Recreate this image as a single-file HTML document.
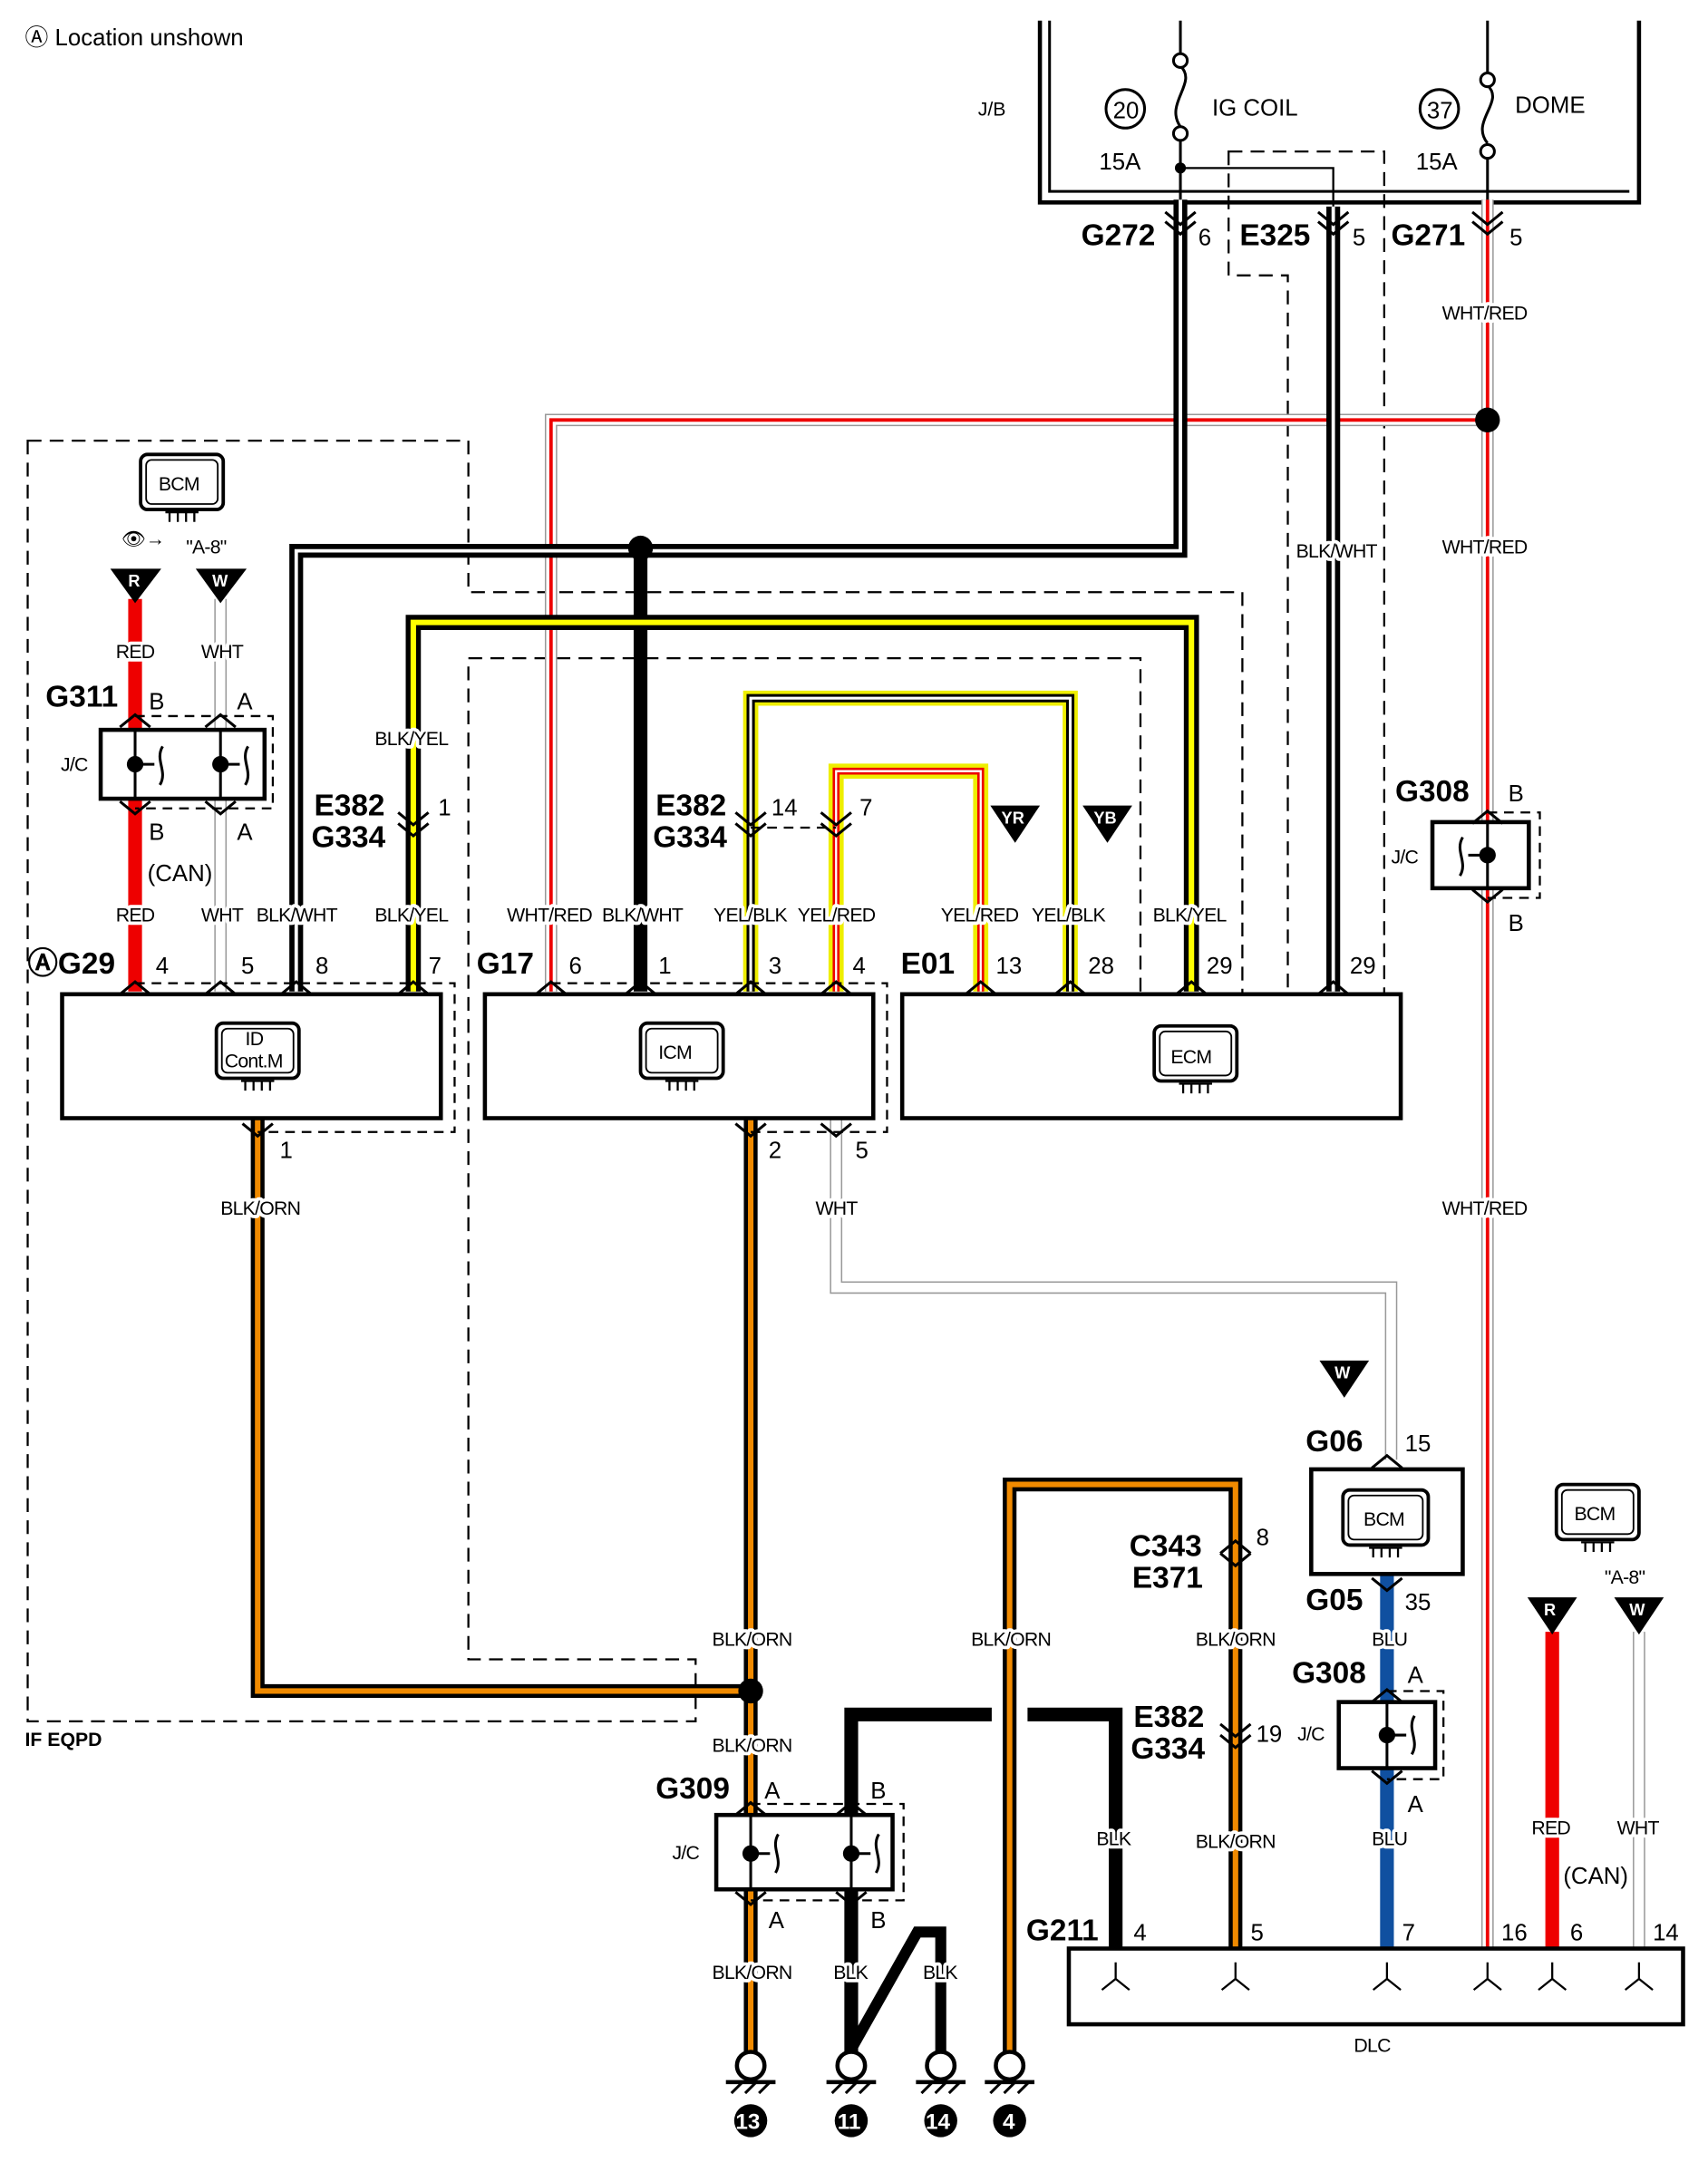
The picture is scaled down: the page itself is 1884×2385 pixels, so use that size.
<!DOCTYPE html>
<html><head><meta charset="utf-8"><style>
html,body{margin:0;padding:0;background:#fff;width:1884px;height:2385px;overflow:hidden}
svg{display:block}
text{font-family:"Liberation Sans",sans-serif;fill:#000}
.l{font-size:14px;letter-spacing:-0.5px}
.l text{stroke:#fff;stroke-width:5px;paint-order:stroke;stroke-linejoin:round}
.b{font-size:22px;font-weight:bold}
.n{font-size:17px}
</style></head><body>
<svg width="1884" height="2385" viewBox="0 0 1240 1570" xmlns="http://www.w3.org/2000/svg">
<defs>
<g id="gnd"><circle cx="0" cy="0" r="10" fill="#fff" stroke="#000" stroke-width="3"/><line x1="-18" y1="12" x2="18" y2="12" stroke="#000" stroke-width="3"/><line x1="-14" y1="20" x2="-6" y2="12" stroke="#000" stroke-width="2"/><line x1="-4" y1="20" x2="4" y2="12" stroke="#000" stroke-width="2"/><line x1="6" y1="20" x2="14" y2="12" stroke="#000" stroke-width="2"/></g>
<path id="chu" d="M-11,6 L0,-3 L11,6" fill="none" stroke="#000" stroke-width="2"/>
<path id="chd" d="M-11,-6 L0,3 L11,-6" fill="none" stroke="#000" stroke-width="2"/>
<g id="pins" stroke="#000" stroke-width="1.5"><line x1="-12" y1="0" x2="12" y2="0"/><line x1="-9" y1="0" x2="-9" y2="7"/><line x1="-3" y1="0" x2="-3" y2="7"/><line x1="3" y1="0" x2="3" y2="7"/><line x1="9" y1="0" x2="9" y2="7"/></g>
</defs>
<g fill="none">
<path d="M20,320 H340 V430 H902 V730 H828 V478 H340 V1205 H505 V1250 H20 Z" stroke="#000" stroke-width="1.5" stroke-dasharray="10,6"/>
<path d="M892,110 H1005 V730 H935 V200 H892 Z" stroke="#000" stroke-width="1.5" stroke-dasharray="10,6"/>
<path d="M755,15 V147 H1190 V15" stroke="#000" stroke-width="3"/>
<path d="M762,15 V139 H1183" stroke="#000" stroke-width="2"/>
<path d="M857,122 H968 V150" stroke="#000" stroke-width="1.5"/>

<g stroke="#999" stroke-width="9"><path d="M1080,145 V1415"/><path d="M1080,305 H400 V720"/><path d="M607,812 V935 H1010 V1060"/><path d="M160,435 V720"/><path d="M1190,1185 V1415"/></g>
<g stroke="#fff" stroke-width="7"><path d="M1080,145 V1415"/><path d="M1080,305 H400 V720"/><path d="M607,812 V935 H1010 V1060"/><path d="M160,435 V720"/><path d="M1190,1185 V1415"/></g>
<g stroke="#e00" stroke-width="2.5"><path d="M1080,145 V1415"/><path d="M1080,305 H400 V720"/></g>

<g stroke="#000" stroke-width="10"><path d="M857,145 V400 H215 V720"/><path d="M465,398 V720"/><path d="M968,150 V720"/></g>
<g stroke="#fff" stroke-width="2.5"><path d="M857,145 V400 H215 V720"/><path d="M968,150 V720"/></g>

<path d="M300,720 V452 H865 V720" stroke="#000" stroke-width="11"/>
<path d="M300,720 V452 H865 V720" stroke="#ff0" stroke-width="4"/>
<path d="M545,720 V507 H777 V720" stroke="#ee0" stroke-width="11"/>
<path d="M545,720 V507 H777 V720" stroke="#000" stroke-width="6"/>
<path d="M545,720 V507 H777 V720" stroke="#fff" stroke-width="2"/>
<path d="M607,720 V560 H712 V720" stroke="#ee0" stroke-width="11"/>
<path d="M607,720 V560 H712 V720" stroke="#e00" stroke-width="5"/>
<path d="M607,720 V560 H712 V720" stroke="#fff" stroke-width="1.5"/>

<path d="M98,435 V720" stroke="#e00" stroke-width="10"/>
<path d="M1127,1185 V1415" stroke="#e00" stroke-width="10"/>
<path d="M1007,1143 V1415" stroke="#1050a0" stroke-width="10"/>

<g stroke="#000" stroke-width="10"><path d="M187,812 V1228 H545"/><path d="M545,812 V1500"/><path d="M733,1500 V1078 H897 V1415"/></g>
<g stroke="#f08a00" stroke-width="4"><path d="M187,812 V1228 H545"/><path d="M545,812 V1500"/><path d="M733,1500 V1078 H897 V1415"/></g>
<path d="M618,1490 V1245 H720 M746,1245 H810 V1415" stroke="#000" stroke-width="10"/>
<path d="M683,1490 V1403 H666 L618,1488" stroke="#000" stroke-width="8"/>

<!-- connector dashed pin bars -->
<g stroke="#000" stroke-width="1.5" stroke-dasharray="7,5">
<path d="M98,714 H330 V822 H187"/><path d="M400,714 H644 V822 H545"/>
<path d="M98,520 H198 V587 H98"/><path d="M545,1310 H656 V1380 H545"/>
<path d="M1080,590 H1118 V652 H1080"/><path d="M1007,1228 H1048 V1292 H1007"/>
<path d="M545,601 H607"/>
</g>

<rect x="45" y="722" width="275" height="90" fill="#fff" stroke="#000" stroke-width="3"/>
<rect x="352" y="722" width="282" height="90" fill="#fff" stroke="#000" stroke-width="3"/>
<rect x="655" y="722" width="362" height="90" fill="#fff" stroke="#000" stroke-width="3"/>
<rect x="952" y="1067" width="110" height="76" fill="#fff" stroke="#000" stroke-width="3"/>
<rect x="776" y="1415" width="446" height="55" fill="#fff" stroke="#000" stroke-width="3"/>
<rect x="73" y="530" width="119" height="50" fill="#fff" stroke="#000" stroke-width="3"/>
<rect x="520" y="1318" width="128" height="54" fill="#fff" stroke="#000" stroke-width="3"/>
<rect x="1040" y="597" width="70" height="48" fill="#fff" stroke="#000" stroke-width="3"/>
<rect x="972" y="1236" width="70" height="48" fill="#fff" stroke="#000" stroke-width="3"/>
<g stroke="#000" stroke-width="2"><path d="M98,530 V580 M160,530 V580 M545,1318 V1372 M618,1318 V1372 M1080,597 V645 M1007,1236 V1284"/>
<path d="M98,555 H112 M118,542 C112,552 122,560 116,570 M160,555 H174 M180,542 C174,552 184,560 178,570 M545,1346 H559 M565,1332 C559,1342 569,1350 563,1360 M618,1346 H632 M638,1332 C632,1342 642,1350 636,1360 M1080,621 H1066 M1062,608 C1056,618 1066,626 1060,636 M1007,1260 H1021 M1027,1246 C1021,1256 1031,1264 1025,1274"/></g>
<g fill="#000"><circle cx="98" cy="555" r="6"/><circle cx="160" cy="555" r="6"/><circle cx="545" cy="1346" r="6"/><circle cx="618" cy="1346" r="6"/><circle cx="1080" cy="621" r="6"/><circle cx="1007" cy="1260" r="6"/>
<circle cx="1080" cy="305" r="9"/><circle cx="465" cy="398" r="9"/><circle cx="545" cy="1228" r="9"/><circle cx="857" cy="122" r="4"/></g>
<path d="M857,15 V40 M857,100 V145 M857,48 C870,60 845,75 857,92" stroke="#000" stroke-width="2"/>
<circle cx="857" cy="44" r="5" fill="#fff" stroke="#000" stroke-width="2"/><circle cx="857" cy="97" r="5" fill="#fff" stroke="#000" stroke-width="2"/>
<path d="M1080,15 V55 M1080,112 V145 M1080,62 C1093,74 1067,88 1080,104" stroke="#000" stroke-width="2"/>
<circle cx="1080" cy="58" r="5" fill="#fff" stroke="#000" stroke-width="2"/><circle cx="1080" cy="110" r="5" fill="#fff" stroke="#000" stroke-width="2"/>
<circle cx="817" cy="79" r="14" stroke="#000" stroke-width="2"/><circle cx="1045" cy="79" r="14" stroke="#000" stroke-width="2"/>
<g stroke="#000" stroke-width="2.5" fill="#fff"><rect x="102" y="330" width="60" height="40" rx="5"/><rect x="465" y="743" width="60" height="40" rx="5"/><rect x="838" y="745" width="60" height="40" rx="5"/><rect x="975" y="1082" width="62" height="40" rx="5"/><rect x="1130" y="1078" width="60" height="40" rx="5"/><rect x="157" y="743" width="60" height="40" rx="5"/></g>
<g stroke="#000" stroke-width="1.2"><rect x="106" y="334" width="52" height="32" rx="4"/><rect x="469" y="747" width="52" height="32" rx="4"/><rect x="842" y="749" width="52" height="32" rx="4"/><rect x="979" y="1086" width="54" height="32" rx="4"/><rect x="1134" y="1082" width="52" height="32" rx="4"/><rect x="161" y="747" width="52" height="32" rx="4"/></g>
<use href="#pins" x="132" y="372"/><use href="#pins" x="495" y="785"/><use href="#pins" x="868" y="787"/><use href="#pins" x="1006" y="1124"/><use href="#pins" x="1160" y="1120"/><use href="#pins" x="187" y="785"/>
<!-- chevrons -->
<use href="#chu" x="98" y="716"/><use href="#chu" x="160" y="716"/><use href="#chu" x="215" y="716"/><use href="#chu" x="300" y="716"/>
<use href="#chu" x="400" y="716"/><use href="#chu" x="465" y="716"/><use href="#chu" x="545" y="716"/><use href="#chu" x="607" y="716"/>
<use href="#chu" x="712" y="716"/><use href="#chu" x="777" y="716"/><use href="#chu" x="865" y="716"/><use href="#chu" x="968" y="716"/>
<use href="#chd" x="187" y="822"/><use href="#chd" x="545" y="822"/><use href="#chd" x="607" y="822"/>
<use href="#chu" x="98" y="522"/><use href="#chu" x="160" y="522"/><use href="#chd" x="98" y="588"/><use href="#chd" x="160" y="588"/>
<use href="#chu" x="545" y="1312"/><use href="#chu" x="618" y="1312"/><use href="#chd" x="545" y="1380"/><use href="#chd" x="618" y="1380"/>
<use href="#chu" x="1080" y="592"/><use href="#chd" x="1080" y="652"/><use href="#chu" x="1007" y="1230"/><use href="#chd" x="1007" y="1292"/>
<use href="#chu" x="1007" y="1060"/><use href="#chd" x="1007" y="1152"/>
<use href="#chd" x="300" y="596"/><use href="#chd" x="300" y="604"/><use href="#chd" x="545" y="596"/><use href="#chd" x="545" y="604"/><use href="#chd" x="607" y="596"/><use href="#chd" x="607" y="604"/>
<use href="#chu" x="897" y="1122"/><use href="#chd" x="897" y="1134"/><use href="#chd" x="897" y="1258"/><use href="#chd" x="897" y="1266"/>
<use href="#chd" x="857" y="160"/><use href="#chd" x="857" y="167"/><use href="#chd" x="968" y="160"/><use href="#chd" x="968" y="167"/><use href="#chd" x="1080" y="160"/><use href="#chd" x="1080" y="167"/>
<use href="#gnd" x="545" y="1500"/><use href="#gnd" x="618" y="1500"/><use href="#gnd" x="683" y="1500"/><use href="#gnd" x="733" y="1500"/>
<g stroke="#000" stroke-width="1.5"><path d="M800,1445 l10,-8 l10,8 M810,1437 V1425 M887,1445 l10,-8 l10,8 M897,1437 V1425 M997,1445 l10,-8 l10,8 M1007,1437 V1425 M1070,1445 l10,-8 l10,8 M1080,1437 V1425 M1117,1445 l10,-8 l10,8 M1127,1437 V1425 M1180,1445 l10,-8 l10,8 M1190,1437 V1425"/></g>
</g>
<g fill="#000"><path d="M80,413 H117 L98,438 Z"/><path d="M142,413 H179 L160,438 Z"/><path d="M719,585 H755 L737,612 Z"/><path d="M786,585 H822 L804,612 Z"/><path d="M958,988 H994 L976,1015 Z"/><path d="M1109,1160 H1145 L1127,1187 Z"/><path d="M1172,1160 H1208 L1190,1187 Z"/></g>
<g font-size="12" font-weight="bold"><text x="93" y="426" style="fill:#fff">R</text><text x="154" y="426" style="fill:#fff">W</text><text x="727" y="598" style="fill:#fff">YR</text><text x="794" y="598" style="fill:#fff">YB</text><text x="969" y="1001" style="fill:#fff">W</text><text x="1121" y="1173" style="fill:#fff">R</text><text x="1183" y="1173" style="fill:#fff">W</text></g>
<g><circle cx="545" cy="1540" r="12"/><circle cx="618" cy="1540" r="12"/><circle cx="683" cy="1540" r="12"/><circle cx="733" cy="1540" r="12"/></g>
<g font-size="16" font-weight="bold"><text x="534" y="1546" style="fill:#fff">13</text><text x="608" y="1546" style="fill:#fff">11</text><text x="672" y="1546" style="fill:#fff">14</text><text x="728" y="1546" style="fill:#fff">4</text></g>
<text x="18" y="33" class="n">Ⓐ Location unshown</text>
<text x="710" y="84" font-size="14">J/B</text>
<text x="808" y="86" class="n">20</text><text x="1036" y="86" class="n">37</text>
<text x="880" y="84" class="n">IG COIL</text><text x="1100" y="82" class="n">DOME</text>
<text x="798" y="123" class="n">15A</text><text x="1028" y="123" class="n">15A</text>
<text x="785" y="178" class="b">G272</text><text x="870" y="178" class="n">6</text>
<text x="900" y="178" class="b">E325</text><text x="982" y="178" class="n">5</text>
<text x="1010" y="178" class="b">G271</text><text x="1096" y="178" class="n">5</text>
<g font-size="14" letter-spacing="-0.5"><text x="115" y="356">BCM</text><text x="478" y="769">ICM</text><text x="850" y="772">ECM</text><text x="990" y="1108">BCM</text><text x="1143" y="1104">BCM</text>
<text x="178" y="759">ID</text><text x="163" y="775">Cont.M</text>
<text x="135" y="402">"A-8"</text><text x="1165" y="1150">"A-8"</text>
<text x="44" y="560">J/C</text><text x="1010" y="627">J/C</text><text x="942" y="1264">J/C</text><text x="488" y="1350">J/C</text><text x="983" y="1490">DLC</text></g>
<g class="l"><text x="1047" y="232">WHT/RED</text><text x="1047" y="402">WHT/RED</text><text x="1047" y="882">WHT/RED</text><text x="941" y="405">BLK/WHT</text>
<text x="84" y="478">RED</text><text x="146" y="478">WHT</text><text x="84" y="669">RED</text><text x="146" y="669">WHT</text>
<text x="186" y="669">BLK/WHT</text><text x="272" y="669">BLK/YEL</text><text x="272" y="541">BLK/YEL</text>
<text x="368" y="669">WHT/RED</text><text x="437" y="669">BLK/WHT</text><text x="518" y="669">YEL/BLK</text><text x="579" y="669">YEL/RED</text>
<text x="683" y="669">YEL/RED</text><text x="749" y="669">YEL/BLK</text><text x="837" y="669">BLK/YEL</text>
<text x="160" y="882">BLK/ORN</text><text x="592" y="882">WHT</text>
<text x="517" y="1195">BLK/ORN</text><text x="705" y="1195">BLK/ORN</text><text x="868" y="1195">BLK/ORN</text><text x="996" y="1195">BLU</text>
<text x="517" y="1272">BLK/ORN</text><text x="796" y="1340">BLK</text><text x="868" y="1342">BLK/ORN</text><text x="996" y="1340">BLU</text>
<text x="1112" y="1332">RED</text><text x="1174" y="1332">WHT</text>
<text x="517" y="1437">BLK/ORN</text><text x="605" y="1437">BLK</text><text x="670" y="1437">BLK</text>
</g>
<text x="88" y="396" font-size="14">👁→</text>
<g class="n"><text x="1135" y="1368">(CAN)</text><text x="108" y="515">B</text><text x="172" y="515">A</text><text x="108" y="610">B</text><text x="172" y="610">A</text><text x="107" y="640">(CAN)</text>
<text x="1095" y="582">B</text><text x="1095" y="676">B</text><text x="1022" y="1222">A</text><text x="1022" y="1316">A</text>
<text x="555" y="1306">A</text><text x="632" y="1306">B</text><text x="558" y="1400">A</text><text x="632" y="1400">B</text>
<text x="318" y="592">1</text><text x="560" y="592">14</text><text x="624" y="592">7</text>
<text x="113" y="707">4</text><text x="175" y="707">5</text><text x="229" y="707">8</text><text x="311" y="707">7</text>
<text x="413" y="707">6</text><text x="478" y="707">1</text><text x="558" y="707">3</text><text x="619" y="707">4</text>
<text x="723" y="707">13</text><text x="790" y="707">28</text><text x="876" y="707">29</text><text x="980" y="707">29</text>
<text x="203" y="841">1</text><text x="558" y="841">2</text><text x="621" y="841">5</text>
<text x="1020" y="1054">15</text><text x="1020" y="1169">35</text><text x="912" y="1122">8</text><text x="912" y="1265">19</text>
<text x="823" y="1409">4</text><text x="908" y="1409">5</text><text x="1018" y="1409">7</text><text x="1090" y="1409">16</text><text x="1140" y="1409">6</text><text x="1200" y="1409">14</text></g>
<g class="b"><text x="33" y="513">G311</text><text x="228" y="592">E382</text><text x="226" y="615">G334</text>
<text x="476" y="592">E382</text><text x="474" y="615">G334</text>
<text x="20" y="707">ⒶG29</text><text x="346" y="707">G17</text><text x="654" y="707">E01</text>
<text x="1013" y="582">G308</text><text x="948" y="1054">G06</text><text x="948" y="1169">G05</text><text x="938" y="1222">G308</text>
<text x="820" y="1130">C343</text><text x="822" y="1153">E371</text><text x="823" y="1254">E382</text><text x="821" y="1277">G334</text>
<text x="476" y="1306">G309</text><text x="745" y="1409">G211</text></g>
<text x="18" y="1268" font-size="14" font-weight="bold">IF EQPD</text>
</svg>
</body></html>
